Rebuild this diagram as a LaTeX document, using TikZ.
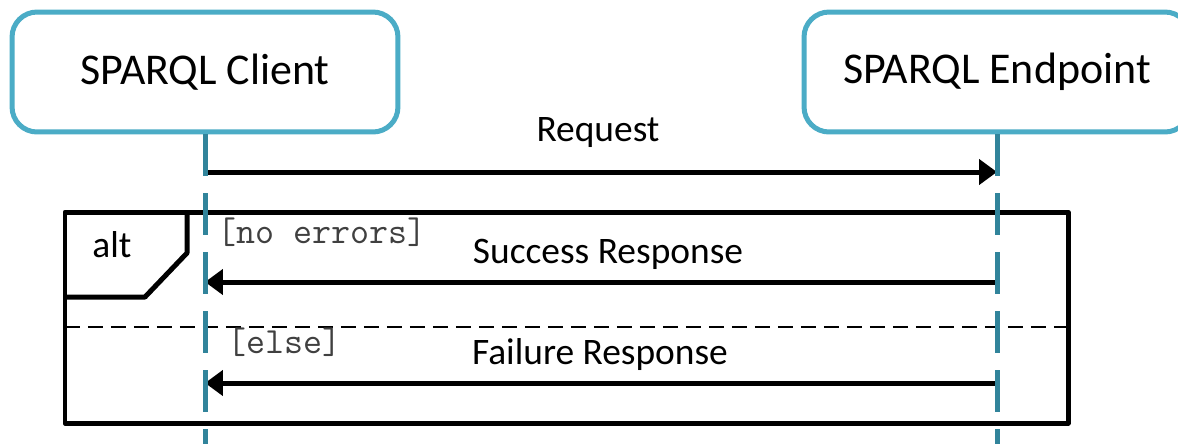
\documentclass[tikz,border=0pt]{standalone}
\usepackage{fontspec}
\setmainfont{Carlito}
\usetikzlibrary{arrows.meta, positioning}

\definecolor{boxblue}{HTML}{4BACC6}
\definecolor{lifeblue}{HTML}{31849B}

\begin{document}
\begin{tikzpicture}[x=0.02cm, y=-0.02cm,
    actor/.style={draw=boxblue, line width=0.1cm, rounded corners=0.5cm, fill=white,
        minimum width=7.72cm, minimum height=2.4cm, font=\fontsize{25}{30}\selectfont},
    lifeline/.style={draw=lifeblue, line width=0.1cm, dash pattern=on 0.84cm off 0.34cm},
    msg/.style={line width=0.1cm, -{Triangle[length=0.36cm, width=0.5cm]}},
    msglabel/.style={font=\fontsize{21.3}{25}\selectfont},
    framebox/.style={line width=0.1cm, line join=round},
    guard/.style={font=\ttfamily\fontsize{21}{24}\selectfont, anchor=west, inner sep=0pt, text=black!75}]
        \useasboundingbox (0,0) rectangle (1178,444);

        % Participants
        \node[actor] (client) at (205,72) {SPARQL Client};
        \node[actor] (endpoint) at (997,72) {SPARQL Endpoint};

        % Ends of the lifelines
        \coordinate (clientend) at (205,444);
        \coordinate (endpointend) at (997,444);

        % Request
        \coordinate (reqfrom) at (205,172);
        \coordinate (reqto) at (997,172);
        \draw[msg] (reqfrom) -- (reqto);
        \node[msglabel] (reqlabel) at (598,133) {Request};

        % The alt fragment
        \draw[framebox] (65,212) rectangle (1068,423);
        \draw[framebox] (65,297) -- (145,297) -- (187,253) -- (187,212);
        \node[msglabel] (alt) at (112,245) {alt};
        \draw[line width=0.04cm, dash pattern=on 0.3cm off 0.16cm] (65,327) -- (1068,327);
        \node[guard] (okguard) at (217,232) {[no errors]};
        \node[guard] (elseguard) at (227,342) {[else]};

        % Responses
        \coordinate (okfrom) at (997,282);
        \coordinate (okto) at (205,282);
        \draw[msg] (okfrom) -- (okto);
        \node[msglabel] (oklabel) at (608,254) {Success Response};
        \coordinate (failfrom) at (997,383);
        \coordinate (failto) at (205,383);
        \draw[msg] (failfrom) -- (failto);
        \node[msglabel] (faillabel) at (600,355) {Failure Response};

        % Lifelines
        \draw[lifeline] (client.south) -- (clientend);
        \draw[lifeline] (endpoint.south) -- (endpointend);
    \end{tikzpicture}
\end{document}
